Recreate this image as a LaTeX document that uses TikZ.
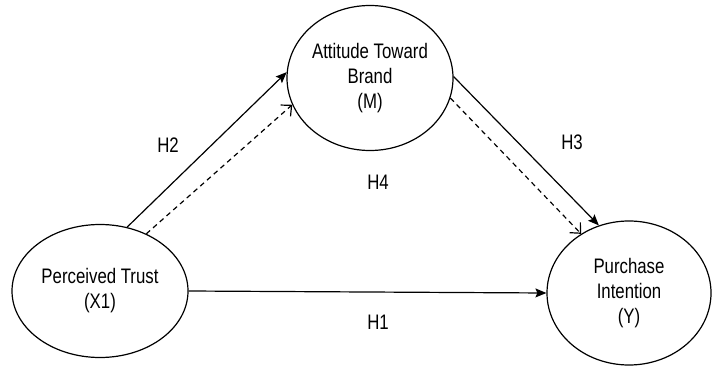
\documentclass[tikz,border=0pt]{standalone}
\usepackage{fontspec}
\setmainfont{Liberation Sans}[FakeStretch=0.8]
\usetikzlibrary{arrows.meta,shapes.geometric}

\begin{document}
\begin{tikzpicture}[x=1pt, y=1pt, line width=1.2pt,
  font=\fontsize{21}{25}\selectfont,
  construct/.style={ellipse, draw, align=center, inner sep=0pt},
  direct/.style={-{Stealth[length=11pt, width=9pt, inset=2pt]}},
  mediated/.style={-{Straight Barb[length=8pt, width=15pt]}, dash pattern=on 5pt off 4pt},
  hyp/.style={inner sep=0pt}
  ]
\useasboundingbox (0,0) rectangle (712,365);

% Constructs
\node[construct, minimum width=176pt, minimum height=133pt] (trust) at (100, 74) {Perceived Trust\\(X1)};
\node[construct, minimum width=166pt, minimum height=145pt] (brand) at (370, 287) {Attitude Toward\\Brand\\(M)};
\node[construct, minimum width=164pt, minimum height=144pt] (intent) at (629, 72) {Purchase\\Intention\\(Y)};

% Paths
\draw[direct] (trust.67) -- (brand.176);
\draw[mediated] (trust.51) -- (brand.199);
\draw[direct] (brand.1) -- (intent.114);
\draw[mediated] (brand.346) -- (intent.129);
\draw[direct] (trust.east) -- (intent.west);

% Hypotheses
\node[hyp] (h2) at (168, 220) {H2};
\node[hyp] (h4) at (378, 183) {H4};
\node[hyp] (h3) at (572, 223) {H3};
\node[hyp] (h1) at (378, 43) {H1};

\end{tikzpicture}
\end{document}
